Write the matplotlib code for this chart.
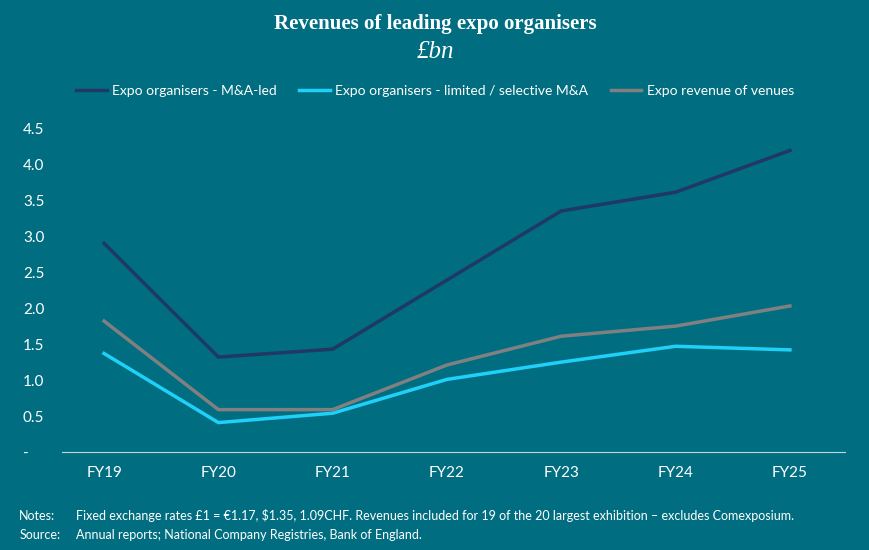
import matplotlib.pyplot as plt

years = ['FY19', 'FY20', 'FY21', 'FY22', 'FY23', 'FY24', 'FY25']
ma_led = [2.90, 1.32, 1.43, 2.39, 3.35, 3.61, 4.19]
limited = [1.37, 0.41, 0.54, 1.01, 1.25, 1.47, 1.42]
venues = [1.82, 0.59, 0.59, 1.21, 1.61, 1.75, 2.03]
yticks = [0, 0.5, 1.0, 1.5, 2.0, 2.5, 3.0, 3.5, 4.0, 4.5]
ytick_labels = ['-', '0.5', '1.0', '1.5', '2.0', '2.5', '3.0', '3.5', '4.0', '4.5']

bg = '#006E80'
plt.rcParams['font.family'] = ['Lato', 'DejaVu Sans']

fig = plt.figure(figsize=(8.7, 5.5), dpi=100, facecolor=bg)
ax = fig.add_axes([0.071, 0.178, 0.9, 0.589])
ax.set_facecolor(bg)

x = range(len(years))
ax.plot(x, ma_led, color='#1F3864', linewidth=2.5, label='Expo organisers - M&A-led')
ax.plot(x, limited, color='#1FD1F9', linewidth=2.5, label='Expo organisers - limited / selective M&A')
ax.plot(x, venues, color='#808080', linewidth=2.5, label='Expo revenue of venues')

ax.set_xlim(-0.37, 6.48)
ax.set_ylim(0, 4.5)
ax.set_xticks(list(x))
ax.set_xticklabels(years)
ax.set_yticks(yticks)
ax.set_yticklabels(ytick_labels)
ax.tick_params(colors='white', labelsize=11, length=0, pad=10)
ax.tick_params(axis='y', pad=28)
for lab in ax.get_yticklabels():
    lab.set_horizontalalignment('left')
for s in ['top', 'right', 'left']:
    ax.spines[s].set_visible(False)
ax.spines['bottom'].set_color('#BFD8DD')
ax.spines['bottom'].set_linewidth(0.8)

fig.legend(loc='center', bbox_to_anchor=(0.5, 0.835), ncol=3, frameon=False,
           labelcolor='white', fontsize=10, handlelength=2.2, handletextpad=0.4,
           columnspacing=1.6)

fig.text(0.5, 0.957, 'Revenues of leading expo organisers', ha='center', va='center',
         color='white', fontsize=15, fontweight='bold', family='Liberation Serif')
fig.text(0.5, 0.905, '£bn', ha='center', va='center', color='white', fontsize=18,
         style='italic', family='Liberation Serif')

fig.text(0.022, 0.062, 'Notes:', color='white', fontsize=9, va='center')
fig.text(0.087, 0.062, 'Fixed exchange rates £1 = €1.17, $1.35, 1.09CHF. Revenues included for 19 of the 20 largest exhibition – excludes Comexposium.',
         color='white', fontsize=9, va='center')
fig.text(0.022, 0.028, 'Source:', color='white', fontsize=9, va='center')
fig.text(0.087, 0.028, 'Annual reports; National Company Registries, Bank of England.',
         color='white', fontsize=9, va='center')

fig.savefig('out.png', dpi=100, facecolor=bg)
